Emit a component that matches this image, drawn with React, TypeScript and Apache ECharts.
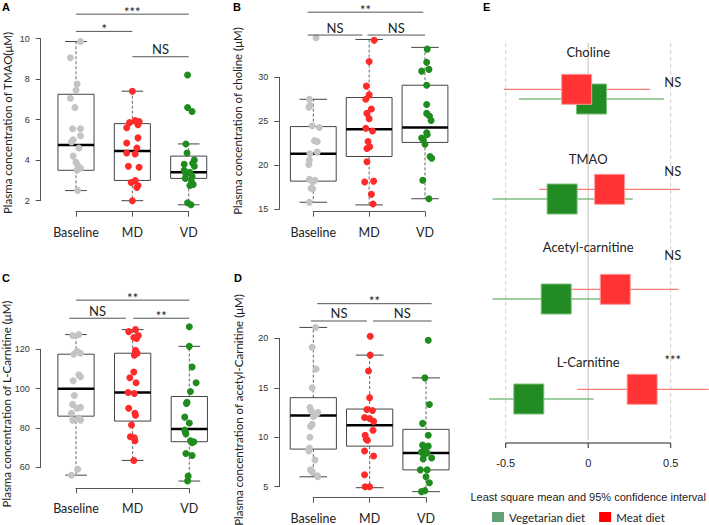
import React, { useEffect, useRef } from 'react';
import * as echarts from 'echarts';

const groups = ['Baseline', 'MD', 'VD'];
const groupColors = ['#c4c4c4', '#ff2a2a', '#1f8c1f'];

// ---- Panel A: TMAO ----  box = [min, Q1, median, Q3, max]
const tmaoBox = [[2.5, 3.5, 4.75, 7.25, 9.85], [2.0, 3.0, 4.45, 5.8, 7.4], [1.8, 3.1, 3.4, 4.2, 4.8]];
const tmaoBaseline = [[0.08, 9.85], [-0.1, 9.05], [0.02, 7.75], [0, 7.45], [-0.1, 7.05], [-0.02, 6.6], [-0.06, 5.55], [0.08, 5.55], [0.08, 5.2], [-0.05, 5.0], [-0.08, 4.9], [0.05, 4.6], [-0.05, 4.2], [0, 3.9], [0.03, 3.75], [0.08, 3.6], [0.02, 3.5], [0.03, 2.5]];
const tmaoMD = [[0, 7.4], [0.12, 5.9], [0.05, 5.95], [-0.05, 5.85], [0.1, 5.75], [-0.1, 5.6], [0.1, 5.1], [-0.1, 4.85], [0.08, 4.6], [-0.1, 4.35], [0.05, 4.3], [-0.07, 3.7], [0.12, 3.65], [0.05, 3.0], [-0.02, 2.9], [0.1, 2.75], [0.08, 2.65], [0, 2.0]];
const tmaoVD = [[-0.02, 8.2], [-0.02, 6.6], [0.06, 6.4], [-0.05, 4.8], [-0.03, 4.35], [0.1, 4.0], [0.07, 3.85], [-0.08, 3.8], [0.1, 3.7], [-0.08, 3.5], [0.02, 3.4], [-0.05, 3.3], [0.06, 3.2], [-0.06, 3.1], [0.05, 2.95], [0.08, 2.8], [0.02, 2.75], [-0.02, 1.9], [0.04, 1.8]];
const tmaoSig = [[1, 3, 11.2, '***'], [1, 2, 10.35, '*'], [2, 3, 9.1, 'NS']];

// ---- Panel B: Choline ----
const cholineBox = [[15.8, 18.2, 21.3, 24.4, 27.5], [15.5, 21.0, 24.1, 27.7, 34.3], [16.2, 22.6, 24.3, 29.1, 33.4]];
const cholineBaseline = [[0.05, 34.5], [-0.07, 27.5], [-0.06, 26.8], [-0.08, 26.6], [-0.02, 24.5], [0.11, 24.3], [0.02, 22.8], [0.07, 22.7], [0.07, 21.5], [-0.06, 21.3], [-0.07, 20.6], [-0.08, 20.1], [-0.07, 18.4], [0.03, 18.3], [-0.01, 18.1], [-0.04, 17.4], [-0.01, 17.3], [-0.07, 15.8]];
const cholineMD = [[0.09, 34.2], [0, 31.8], [-0.05, 29.0], [0, 28.0], [-0.06, 27.5], [0.04, 26.4], [-0.04, 25.9], [0, 25.3], [-0.06, 24.2], [0.06, 23.9], [-0.02, 22.7], [0.01, 22.1], [-0.04, 21.9], [-0.04, 20.4], [-0.08, 18.1], [0.08, 18.2], [0.04, 16.7], [0.07, 15.6]];
const cholineVD = [[0.04, 33.2], [0.03, 31.7], [-0.06, 30.7], [0.07, 30.9], [0.03, 29.1], [0.03, 26.9], [0.03, 25.9], [0.08, 25.6], [0.11, 25.1], [0.03, 23.7], [0.04, 23.5], [-0.06, 23.1], [-0.03, 22.9], [0, 22.4], [0.09, 21.0], [0.12, 20.8], [-0.04, 18.3], [0.07, 16.2]];
const cholineSig = [[0.9, 2.97, 37.4, '**'], [0.9, 1.88, 34.8, 'NS'], [1.97, 3.0, 34.8, 'NS']];

// ---- Panel C: L-Carnitine ----
const lcarnBox = [[56, 86, 100, 117.5, 127.5], [63.5, 83.5, 98, 118, 130], [53, 73, 79.5, 96, 121.5]];
const lcarnBaseline = [[0.05, 127.5], [-0.06, 127], [0.02, 119], [0.08, 118], [-0.04, 117.5], [0.05, 107], [0.08, 106], [-0.05, 104], [-0.03, 96.5], [-0.06, 92], [0.08, 90.5], [0.02, 90], [-0.08, 87.5], [0.05, 85], [-0.06, 84], [0.08, 84], [0.03, 59], [-0.08, 56]];
const lcarnMD = [[0.05, 130], [-0.07, 129], [0.1, 127], [0.02, 126], [0.07, 125.5], [0.05, 119.5], [0.08, 118], [0.03, 117], [0.02, 108.5], [-0.05, 105.5], [0.06, 103], [-0.08, 98], [0.03, 97.5], [-0.07, 90], [0.04, 87.5], [0.05, 86.5], [-0.02, 81.5], [-0.04, 75.5], [0.03, 75], [0.04, 73.5], [0.02, 63.5]];
const lcarnVD = [[0, 131.5], [0, 121.5], [0.05, 111], [0.12, 103], [0.02, 98.5], [-0.04, 93], [-0.05, 92.5], [-0.08, 85.5], [0, 82.5], [-0.08, 79], [-0.07, 78], [-0.06, 77], [0.02, 73.5], [0.08, 73], [0.05, 72.5], [-0.06, 67], [0.05, 66], [-0.02, 55.5], [-0.03, 53]];
const lcarnSig = [[1, 3, 145, '**'], [0.88, 1.88, 135.8, 'NS'], [2.01, 3.0, 135.8, '**']];

// ---- Panel D: acetyl-Carnitine ----
const acetylBox = [[6.0, 8.8, 12.2, 14.0, 21.1], [4.9, 9.1, 11.2, 12.85, 18.3], [4.5, 6.7, 8.4, 10.8, 16.0]];
const acetylBaseline = [[0.04, 21.1], [-0.02, 19.1], [0.05, 16.9], [-0.02, 15.0], [-0.06, 13.0], [-0.04, 12.7], [0.08, 12.5], [0.05, 12.3], [0, 12.1], [-0.02, 11.3], [-0.05, 11.1], [-0.06, 10.0], [-0.07, 8.9], [-0.08, 8.6], [0.03, 7.7], [-0.05, 6.7], [-0.02, 6.5], [0.07, 6.1], [0.08, 6.0]];
const acetylMD = [[0.01, 20.2], [0.01, 18.3], [-0.02, 16.7], [0, 14.0], [-0.05, 12.8], [0.05, 12.7], [-0.09, 12.0], [0, 11.9], [0.07, 11.6], [0.06, 10.7], [-0.08, 10.2], [-0.06, 9.8], [-0.04, 9.7], [-0.09, 8.6], [0.07, 8.1], [-0.09, 6.2], [-0.08, 5.0], [0, 5.0]];
const acetylVD = [[0.04, 19.8], [-0.02, 16.0], [0.06, 13.3], [-0.06, 11.4], [0.04, 10.2], [-0.06, 9.2], [0.04, 9.1], [-0.02, 8.9], [-0.08, 8.5], [0.02, 8.4], [-0.04, 8.2], [0.1, 7.9], [-0.05, 7.8], [-0.1, 6.7], [0.02, 6.7], [0, 6.0], [0.06, 5.4], [-0.02, 4.6], [-0.08, 4.5]];
const acetylSig = [[1.07, 3.1, 23.5, '**'], [0.96, 1.95, 21.75, 'NS'], [2.06, 3.1, 21.75, 'NS']];

// ---- Panel E: forest plot ----
const metabolites = ['Choline', 'TMAO', 'Acetyl-carnitine', 'L-Carnitine'];
const metaboliteLabelRow = [0.09, 1.16, 2.04, 3.19];
const meatEst = [-0.07, 0.13, 0.164, 0.327];
const meatLo = [-0.51, -0.297, -0.22, -0.065];
const meatHi = [0.374, 0.556, 0.547, 0.73];
const vegEst = [0.02, -0.158, -0.194, -0.36];
const vegLo = [-0.42, -0.58, -0.58, -0.6];
const vegHi = [0.46, 0.27, 0.15, 0.032];
const sigLabels = ['NS', 'NS', 'NS', '***'];
const sigRow = [0.387, 1.28, 2.12, 3.17];
const forestTicks = [-0.5, 0, 0.5];
const forestTickLabels = ['-0.5', '0', '0.5'];
const forestRows = 4;

const SANS = 'Lato, "Noto Sans", sans-serif';
const ARIAL = '"Liberation Sans", Arial, sans-serif';

const panels = [
  { title: 'A', box: tmaoBox, pts: [tmaoBaseline, tmaoMD, tmaoVD], sig: tmaoSig, grid: { left: 76, top: 38.5, width: 112.7, height: 162.2 }, y: { min: 2, max: 10, interval: 2 }, yOff: 35.3, xOff: 11, wex: 0.64, ylabel: 'Plasma concentration of TMAO(μM)', ylabelPos: [7, 123], titlePos: [2, 1] },
  { title: 'B', box: cholineBox, pts: [cholineBaseline, cholineMD, cholineVD], sig: cholineSig, grid: { left: 313.3, top: 77.3, width: 111.7, height: 132 }, y: { min: 15, max: 30, interval: 5 }, yOff: 34, xOff: 2.4, wex: 0.82, ylabel: 'Plasma concentration of choline (μM)', ylabelPos: [237, 121], titlePos: [233, 1] },
  { title: 'C', box: lcarnBox, pts: [lcarnBaseline, lcarnMD, lcarnVD], sig: lcarnSig, grid: { left: 76, top: 349.3, width: 113.3, height: 118 }, y: { min: 60, max: 120, interval: 20 }, yOff: 35.3, xOff: 21, wex: 0.64, ylabel: 'Plasma concentration of L-Carnitine (μM)', ylabelPos: [6, 404], titlePos: [2, 272] },
  { title: 'D', box: acetylBox, pts: [acetylBaseline, acetylMD, acetylVD], sig: acetylSig, grid: { left: 313.3, top: 338.3, width: 112.7, height: 148.4 }, y: { min: 5, max: 20, interval: 5 }, yOff: 34, xOff: 11, wex: 0.82, ylabel: 'Plasma concentration of acetyl-Carnitine (μM)', ylabelPos: [238, 410], titlePos: [234, 272] },
];

const renderBox = (wex: number) => (params: any, api: any) => {
  const x = api.value(0);
  const unit = api.size([1, 0])[0];
  const hw = (unit * wex) / 2;
  const cw = hw * 0.6;
  const lo = api.coord([x, api.value(1)]);
  const cx = lo[0];
  const yLo = lo[1];
  const yQ1 = api.coord([x, api.value(2)])[1];
  const yMed = api.coord([x, api.value(3)])[1];
  const yQ3 = api.coord([x, api.value(4)])[1];
  const yHi = api.coord([x, api.value(5)])[1];
  const stroke = '#444';
  const dash = { stroke: '#666', lineWidth: 1, lineDash: [3, 2] };
  return {
    type: 'group',
    children: [
      { type: 'line', shape: { x1: cx, y1: yQ3, x2: cx, y2: yHi }, style: dash },
      { type: 'line', shape: { x1: cx, y1: yQ1, x2: cx, y2: yLo }, style: dash },
      { type: 'line', shape: { x1: cx - cw, y1: yHi, x2: cx + cw, y2: yHi }, style: { stroke, lineWidth: 1 } },
      { type: 'line', shape: { x1: cx - cw, y1: yLo, x2: cx + cw, y2: yLo }, style: { stroke, lineWidth: 1 } },
      { type: 'rect', shape: { x: cx - hw, y: yQ3, width: 2 * hw, height: yQ1 - yQ3 }, style: { fill: '#fff', stroke, lineWidth: 1 } },
      { type: 'line', shape: { x1: cx - hw, y1: yMed, x2: cx + hw, y2: yMed }, style: { stroke: '#000', lineWidth: 2.5 } },
    ],
  };
};

const renderSig = (list: any[]) => (params: any, api: any) => {
  const a = api.coord([api.value(0), api.value(2)]);
  const b = api.coord([api.value(1), api.value(2)]);
  const txt = list[params.dataIndex][3];
  const isStar = txt.indexOf('*') >= 0;
  return {
    type: 'group',
    children: [
      { type: 'line', shape: { x1: a[0], y1: a[1], x2: b[0], y2: b[1] }, style: { stroke: '#555', lineWidth: 1 } },
      { type: 'text', x: (a[0] + b[0]) / 2, y: a[1] + (isStar ? 4 : -1), style: { text: txt, align: 'center', verticalAlign: 'bottom', fontFamily: SANS, fontSize: 13, fill: '#222' } },
    ],
  };
};

const renderCI = (color: string) => (params: any, api: any) => {
  const a = api.coord([api.value(0), api.value(2)]);
  const b = api.coord([api.value(1), api.value(2)]);
  return { type: 'line', shape: { x1: a[0], y1: a[1], x2: b[0], y2: b[1] }, style: { stroke: color, lineWidth: 1 } };
};

const renderText = (texts: string[], fontSize: number, family: string) => (params: any, api: any) => {
  const p = api.coord([api.value(0), api.value(1)]);
  return { type: 'text', x: p[0], y: p[1], style: { text: texts[params.dataIndex], align: 'center', verticalAlign: 'middle', fontFamily: family, fontSize, fill: '#222' } };
};

// forest x axis: grid line, tick, tick label and (once) the axis line, all through the axis scale
const renderForestAxis = (params: any, api: any) => {
  const v = api.value(0);
  const top = api.coord([v, 0]);
  const bot = api.coord([v, forestRows]);
  const first = api.coord([forestTicks[0], forestRows]);
  const last = api.coord([forestTicks[forestTicks.length - 1], forestRows]);
  const isZero = v === 0;
  const children: any[] = [
    { type: 'line', shape: { x1: top[0], y1: top[1], x2: bot[0], y2: bot[1] - 3 }, style: isZero ? { stroke: '#cdcdcd', lineWidth: 1.2 } : { stroke: '#cfcfcf', lineWidth: 1, lineDash: [4, 3] } },
    { type: 'line', shape: { x1: bot[0], y1: bot[1], x2: bot[0], y2: bot[1] + 5 }, style: { stroke: '#222', lineWidth: 1 } },
    { type: 'text', x: bot[0], y: bot[1] + 14, style: { text: forestTickLabels[params.dataIndex], align: 'center', verticalAlign: 'top', fontFamily: ARIAL, fontSize: 11, fill: '#222' } },
  ];
  if (params.dataIndex === 0) {
    children.push({ type: 'line', shape: { x1: first[0], y1: first[1], x2: last[0], y2: last[1] }, style: { stroke: '#222', lineWidth: 1 } });
  }
  return { type: 'group', children };
};

function buildOption() {
  const grids: any[] = [];
  const xAxes: any[] = [];
  const yAxes: any[] = [];
  const series: any[] = [];
  const graphics: any[] = [];

  panels.forEach((p, i) => {
    grids.push({ ...p.grid, containLabel: false });
    xAxes.push({
      type: 'value', gridIndex: i, min: 1, max: 3, interval: 1, offset: p.xOff, position: 'bottom',
      axisLine: { show: true, onZero: false, lineStyle: { color: '#555', width: 1 } },
      axisTick: { show: true, length: 5, lineStyle: { color: '#555' } },
      axisLabel: { formatter: (v: number) => groups[Math.round(v) - 1] || '', margin: 14, fontFamily: SANS, fontSize: 12.5, color: '#222' },
      splitLine: { show: false },
    });
    yAxes.push({
      type: 'value', gridIndex: i, min: p.y.min, max: p.y.max, interval: p.y.interval, offset: p.yOff, position: 'left',
      axisLine: { show: true, onZero: false, lineStyle: { color: '#555', width: 1 } },
      axisTick: { show: true, length: 5, lineStyle: { color: '#555' } },
      axisLabel: { margin: 11, fontFamily: ARIAL, fontSize: 9, color: '#333' },
      splitLine: { show: false },
    });
    series.push({
      type: 'custom', xAxisIndex: i, yAxisIndex: i, clip: false, silent: true,
      renderItem: renderBox(p.wex),
      data: p.box.map((b, g) => [g + 1, ...b]),
      z: 2,
    });
    p.pts.forEach((pts, g) => {
      series.push({
        type: 'scatter', xAxisIndex: i, yAxisIndex: i, clip: false, silent: true,
        symbolSize: 7, itemStyle: { color: groupColors[g], opacity: 1 },
        data: pts.map((d) => [g + 1 + d[0], d[1]]),
        z: 3,
      });
    });
    series.push({
      type: 'custom', xAxisIndex: i, yAxisIndex: i, clip: false, silent: true,
      renderItem: renderSig(p.sig),
      data: p.sig.map((s) => [s[0], s[1], s[2]]),
      z: 4,
    });
    graphics.push({ type: 'text', x: p.titlePos[0], y: p.titlePos[1], style: { text: p.title, fontFamily: ARIAL, fontWeight: 'bold', fontSize: 11, fill: '#000', verticalAlign: 'top', align: 'left' } });
    graphics.push({ type: 'text', x: p.ylabelPos[0], y: p.ylabelPos[1], rotation: Math.PI / 2, style: { text: p.ylabel, fontFamily: SANS, fontSize: 11.5, fill: '#222', align: 'center', verticalAlign: 'middle' } });
  });

  // Panel E
  const e = 4;
  grids.push({ left: 505.7, top: 43, width: 165, height: 400, containLabel: false });
  xAxes.push({ type: 'value', gridIndex: e, min: -0.5, max: 0.5, show: false, splitLine: { show: false } });
  yAxes.push({ type: 'value', gridIndex: e, min: 0, max: forestRows, inverse: true, show: false, splitLine: { show: false } });

  series.push({ type: 'custom', name: 'axisE', xAxisIndex: e, yAxisIndex: e, clip: false, silent: true, renderItem: renderForestAxis, data: forestTicks.map((v) => [v]) });
  series.push({ type: 'custom', name: 'vegCI', xAxisIndex: e, yAxisIndex: e, clip: false, silent: true, renderItem: renderCI('#3f9f3f'), data: vegLo.map((lo, r) => [lo, vegHi[r], r + 0.56]) });
  series.push({ type: 'custom', name: 'meatCI', xAxisIndex: e, yAxisIndex: e, clip: false, silent: true, renderItem: renderCI('#ff5a5a'), data: meatLo.map((lo, r) => [lo, meatHi[r], r + 0.463]) });
  series.push({ type: 'scatter', name: 'Vegetarian diet', xAxisIndex: e, yAxisIndex: e, clip: false, silent: true, symbol: 'rect', symbolSize: 30, itemStyle: { color: '#238b23', borderColor: '#7cc07c', borderWidth: 1, opacity: 1 }, data: vegEst.map((v, r) => [v, r + 0.56]) });
  series.push({ type: 'scatter', name: 'Meat diet', xAxisIndex: e, yAxisIndex: e, clip: false, silent: true, symbol: 'rect', symbolSize: 30, itemStyle: { color: '#ff3333', borderColor: '#ff9a9a', borderWidth: 1, opacity: 1 }, data: meatEst.map((v, r) => [v, r + 0.463]) });
  series.push({ type: 'custom', name: 'labels', xAxisIndex: e, yAxisIndex: e, clip: false, silent: true, renderItem: renderText(metabolites, 13, SANS), data: metaboliteLabelRow.map((y) => [0, y]) });
  series.push({ type: 'custom', name: 'sig', xAxisIndex: e, yAxisIndex: e, clip: false, silent: true, renderItem: renderText(sigLabels, 13, SANS), data: sigRow.map((y) => [0.513, y]) });

  graphics.push({ type: 'text', x: 483, y: 1, style: { text: 'E', fontFamily: ARIAL, fontWeight: 'bold', fontSize: 11, fill: '#000', verticalAlign: 'top', align: 'left' } });
  graphics.push({ type: 'text', x: 588.2, y: 497, style: { text: 'Least square mean and 95% confidence interval', fontFamily: ARIAL, fontSize: 11, fill: '#222', align: 'center', verticalAlign: 'middle' } });

  return {
    animation: false,
    backgroundColor: '#ffffff',
    grid: grids,
    xAxis: xAxes,
    yAxis: yAxes,
    series,
    graphic: graphics,
    legend: {
      left: 492, top: 511, padding: 0, itemWidth: 12, itemHeight: 10, itemGap: 14, selectedMode: false, icon: 'rect',
      textStyle: { fontFamily: SANS, fontSize: 11.5, color: '#222' },
      data: [
        { name: 'Vegetarian diet', itemStyle: { color: '#62a274', borderWidth: 0 } },
        { name: 'Meat diet', itemStyle: { color: '#ff0000', borderWidth: 0 } },
      ],
    },
  };
}

export default function App() {
  const ref = useRef<HTMLDivElement>(null);
  useEffect(() => {
    document.body.style.margin = '0';
    if (!ref.current) return;
    const chart = echarts.init(ref.current, null, { renderer: 'svg' });
    chart.setOption(buildOption() as any);
    return () => chart.dispose();
  }, []);
  return <div ref={ref} style={{ width: 709, height: 525 }} />;
}
